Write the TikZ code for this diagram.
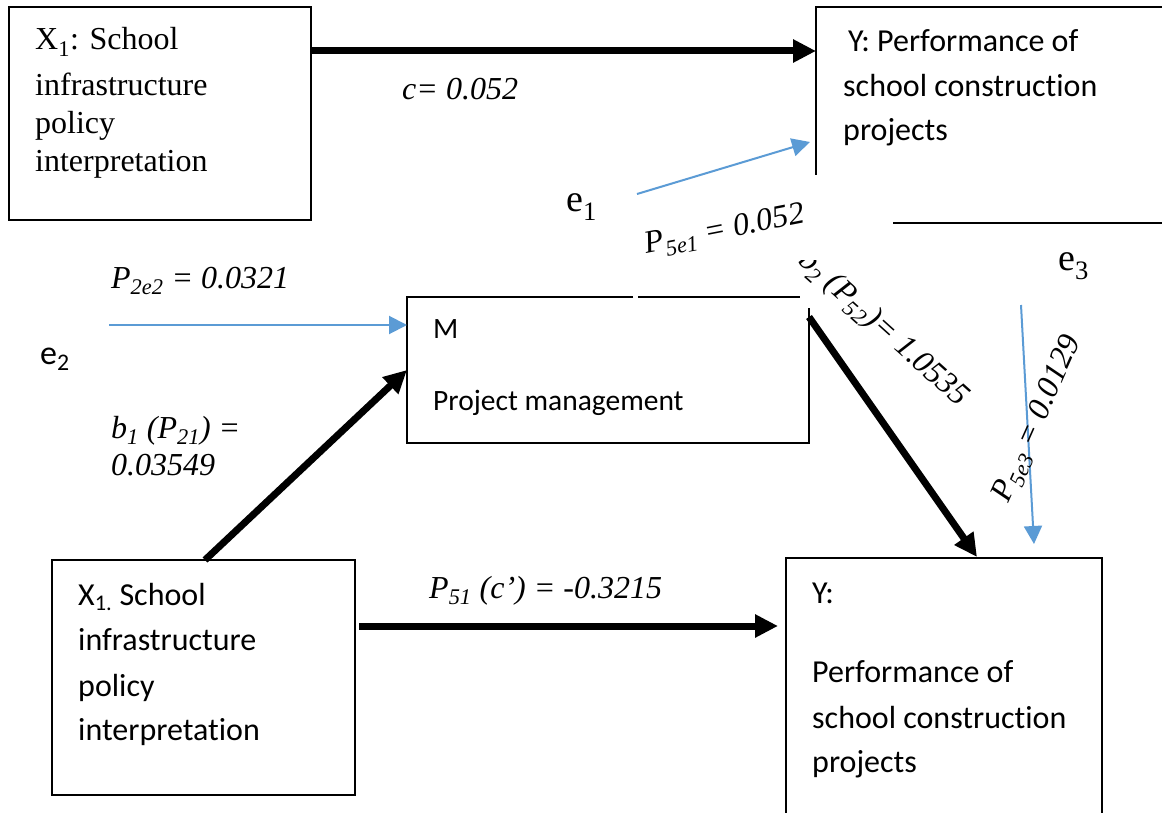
\documentclass[tikz,border=0pt]{standalone}
\usepackage{fontspec}
\setmainfont{Liberation Serif}
\newfontfamily\calibfont[Ligatures=NoCommon]{Carlito}
\usetikzlibrary{arrows.meta,calc}
\definecolor{eblue}{RGB}{91,155,213}
\begin{document}
\begin{tikzpicture}[x=1pt,y=-1pt,
  boxline/.style={line width=2.6pt},
  boxnode/.style={inner sep=0pt,outer sep=0pt},
  thickarr/.style={line width=7pt,-{Triangle[length=23pt,width=22pt]}},
  bluearr/.style={draw=eblue,line width=2pt,-{Triangle[length=18pt,width=18pt]}},
  serif/.style={font=\fontsize{32}{38}\selectfont,inner sep=0pt,anchor=base west},
  big/.style={font=\fontsize{38}{44}\selectfont,inner sep=0pt,anchor=base west},
  sans/.style={font=\calibfont\fontsize{32}{38}\selectfont,inner sep=0pt,anchor=base west},
  msans/.style={font=\calibfont\fontsize{29.5}{36}\selectfont,inner sep=0pt,anchor=base west},
  lbl/.style={font=\itshape\fontsize{32}{38}\selectfont,inner sep=0pt},
]
\clip (0,0) rectangle (1162,813);
\fill[white] (0,0) rectangle (1162,813);

% boxes
\node[boxnode,draw,boxline,minimum width=302pt,minimum height=213pt] (xtop) at (160,113.5) {};
\node[boxnode,minimum width=359pt,minimum height=216pt] (ytop) at (995.5,115) {};
\node[boxnode,minimum width=402pt,minimum height=146pt] (M) at (608,370) {};
\node[boxnode,draw,boxline,minimum width=303pt,minimum height=235pt] (xbot) at (203.5,677.5) {};
\node[boxnode,draw,boxline,minimum width=316pt,minimum height=262pt] (ybot) at (944,689) {};

\draw[boxline] ($(ytop.north west)+(0,168)$) -- (ytop.north west) -- (ytop.north east);
\draw[boxline] ($(ytop.south west)+(77,0)$) -- (ytop.south east);
\draw[boxline] ($(M.north west)+(226,0)$) -- (M.north west) -- (M.south west) -- (M.south east) -- ($(M.north east)+(0,11)$);
\draw[boxline] ($(M.north west)+(231,0)$) -- ($(M.north east)+(-9,0)$);

% box texts
\node[serif] (xt1) at (35,50) {X\textsubscript{1}: School};
\node[serif] (xt2) at (35,96) {infrastructure};
\node[serif] (xt3) at (35,134) {policy};
\node[serif] (xt4) at (35,172) {interpretation};

\node[sans] (yt1) at (848,52) {Y: Performance of};
\node[sans] (yt2) at (843,97) {school construction};
\node[sans] (yt3) at (843,141) {projects};

\node[msans] (mt1) at (433,338) {M};
\node[msans] (mt2) at (433,410) {Project management};

\node[sans] (xb1) at (78,605) {X\textsubscript{1.} School};
\node[sans] (xb2) at (78,650) {infrastructure};
\node[sans] (xb3) at (78,696) {policy};
\node[sans] (xb4) at (78,740) {interpretation};

\node[sans] (yb1) at (812,603) {Y:};
\node[sans] (yb2) at (812,682) {Performance of};
\node[sans] (yb3) at (812,728) {school construction};
\node[sans] (yb4) at (812,772) {projects};

% error terms
\node[big] (e1) at (566,212) {e\textsubscript{1}};
\node[big] (e3) at (1058,270) {e\textsubscript{3}};
\node[sans,font=\calibfont\fontsize{34}{40}\selectfont] (e2) at (40,364) {e\textsubscript{2}};
\coordinate (e1s) at (637,194);
\coordinate (e2s) at (109,325);
\coordinate (e3s) at (1021,305);

% connectors
\draw[thickarr] ($(xtop.north east)+(0,44)$) -- ($(ytop.north west)+(0,44)$);
\draw[thickarr] ($(xbot.north west)+(153,0)$) -- ($(M.north west)+(0,73)$);
\draw[thickarr] ($(M.north east)+(0,20)$) -- ($(ybot.north west)+(191,-1)$);
\draw[thickarr] ($(xbot.north east)+(4,66)$) -- ($(ybot.north west)+(-8,68)$);
\draw[bluearr] (e1s) -- ($(ytop.north west)+(-6,135)$);
\draw[bluearr] (e2s) -- ($(M.north west)+(0,28)$);
\draw[bluearr] (e3s) -- ($(ybot.north west)+(248,-14)$);

% labels
\node[lbl,anchor=base west] (lc) at (402,100) {c= 0.052};
\node[lbl,anchor=base west] (lp2e2) at (111,288) {P\textsubscript{2e2} = 0.0321};
\node[lbl,anchor=base west] (lb1a) at (111,438) {b\textsubscript{1} (P\textsubscript{21}) =};
\node[lbl,anchor=base west] (lb1b) at (111,475) {0.03549};
\node[lbl,anchor=base west] (lp51) at (429,598) {P\textsubscript{51} (c’) = -0.3215};
\node[lbl,rotate=11] (lp5e1) at (725,231) {P\textsubscript{5e1} = 0.052};
\node[lbl,rotate=66] (lp5e3) at (1038,419) {P\textsubscript{5e3} = 0.0129};
\begin{scope}
\clip (700,260) rectangle (1162,813);
\node[lbl,rotate=-42] (lb2) at (883,329) {b\textsubscript{2} (P\textsubscript{52})= 1.0535};
\end{scope}
\end{tikzpicture}
\end{document}
